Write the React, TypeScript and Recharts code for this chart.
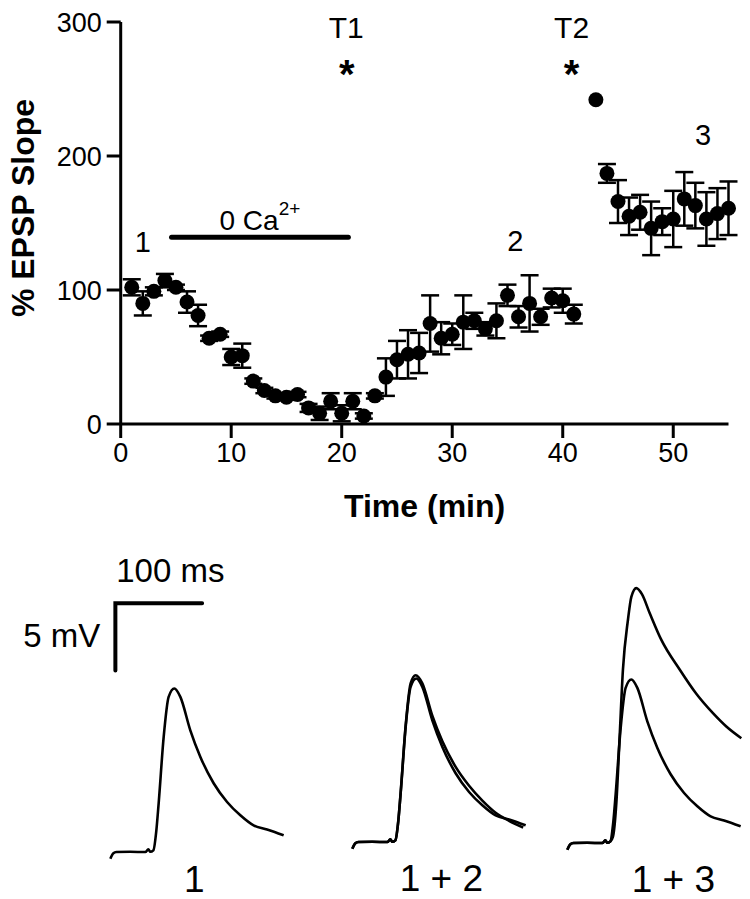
import {
  ScatterChart,
  Scatter,
  ErrorBar,
  XAxis,
  YAxis,
  ReferenceDot,
  ReferenceLine,
  LineChart,
  Line,
} from 'recharts';

const FONT = '"Liberation Sans", Arial, Helvetica, sans-serif';

// time course: minute, mean % EPSP slope, SEM
const minutes = [
  1, 2, 3, 4, 5, 6, 7, 8, 9, 10, 11, 12, 13, 14, 15, 16, 17, 18, 19, 20, 21,
  22, 23, 24, 25, 26, 27, 28, 29, 30, 31, 32, 33, 34, 35, 36, 37, 38, 39, 40,
  41, 43, 44, 45, 46, 47, 48, 49, 50, 51, 52, 53, 54, 55,
];
const slopeMean = [
  102, 90, 99, 107, 102, 91, 81, 64, 67, 50, 51, 32, 25, 21, 20, 22, 12, 8, 17,
  8, 17, 6, 21, 35, 48, 52, 53, 75, 64, 67, 76, 77, 71, 77, 96, 80, 90, 80, 94,
  92, 82, 242, 187, 166, 155, 158, 146, 151, 153, 168, 163, 153, 157, 161,
];
const slopeSem = [
  6, 9, 3, 5, 2, 8, 8, 2, 2, 6, 9, 2, 2, 2, 2, 2, 3, 5, 6, 6, 6, 2, 2, 14, 14,
  18, 15, 21, 12, 8, 20, 6, 5, 13, 8, 8, 21, 6, 7, 9, 7, 0, 7, 16, 14, 13, 20,
  10, 21, 20, 17, 20, 19, 20,
];
const minuteTicks = [0, 10, 20, 30, 40, 50];
const slopeTicks = [0, 100, 200, 300];

// text marks on the time course (minute, % slope)
const notes = [
  { t: 20.4, v: 296, text: 'T1' },
  { t: 20.45, v: 269, text: '*' },
  { t: 40.8, v: 296, text: 'T2' },
  { t: 40.8, v: 269, text: '*' },
  { t: 2.0, v: 136, text: '1' },
  { t: 35.7, v: 137, text: '2' },
  { t: 52.7, v: 216, text: '3' },
];
const zeroCa = { from: 4.6, to: 20.6, v: 139.3, labelT: 12.6, labelV: 152.5 };

// EPSP traces: ms, mV
const ctrlMs = [0, 3.5, 6.9, 23, 40.4, 43.8, 46.1, 49.6, 53, 55.7, 61.5, 67.2, 73.8, 80.7, 92.2, 103.8, 119.1, 134.6, 149.9, 165.2, 180.7, 199.8];
const ctrlMv = [-0.47, -0.07, 0.02, 0.04, 0.02, 0.22, 0.04, 0.15, 1.6, 3.64, 8.57, 11.54, 12.16, 11.54, 9.06, 7.08, 5.13, 3.74, 2.75, 2.0, 1.69, 1.26];
const after2Ms = [0, 3.5, 6.9, 23, 40.4, 43.8, 46.1, 49.6, 53, 55.7, 61.5, 67.2, 73, 80.7, 92.2, 103.8, 119.1, 134.6, 149.9, 165.2, 180.7, 197];
const after2Mv = [-0.47, -0.07, 0.02, 0.04, 0.02, 0.22, 0.04, 0.15, 1.6, 3.7, 8.7, 11.8, 12.4, 11.8, 9.4, 7.5, 5.6, 4.2, 3.1, 2.2, 1.6, 1.1];
const after3Ms = [0, 3.5, 6.9, 23, 40.4, 43.8, 46.1, 49.6, 52.6, 56.5, 60.3, 64.1, 69.9, 73.8, 79.5, 86, 94.9, 108.4, 129.5, 148.7, 167.9, 183.3, 200.6];
const after3Mv = [-0.47, -0.07, 0.02, 0.04, 0.02, 0.22, 0.04, 0.15, 0.5, 3.0, 7.9, 12.9, 16.6, 18.3, 18.95, 18.5, 17.1, 15.1, 12.9, 11.1, 9.66, 8.67, 7.8];
// scale bar: 100 ms, 5 mV
const barMs = [5.8, 5.8, 105.8];
const barMv = [13.5, 18.5, 18.5];

const slopeRows = minutes.map((t, i) => ({ t, v: slopeMean[i], err: slopeSem[i] }));
const toRows = (ms: number[], mv: number[]) => ms.map((t, i) => ({ t, v: mv[i] }));
const ctrlRows = toRows(ctrlMs, ctrlMv);
const after2Rows = toRows(after2Ms, after2Mv);
const after3Rows = toRows(after3Ms, after3Mv);
const barRows = toRows(barMs, barMv);

const axisStyle = { stroke: '#000', strokeWidth: 3 };

function NoteText(p: any, text: string, size: number, bold = false) {
  const star = text === '*';
  return (
    <text
      x={p.cx}
      y={p.cy}
      dy={star ? '0.6em' : '0.36em'}
      textAnchor="middle"
      fontFamily={FONT}
      fontSize={size}
      fontWeight={bold || star ? 'bold' : 'normal'}
      fill="#000"
    >
      {text}
    </text>
  );
}

function TimeCourse() {
  const yLabel = (props: any) => {
    const vb = props.viewBox;
    const cx = vb.x + 22;
    const cy = vb.y + vb.height / 2 - 15;
    return (
      <text x={cx} y={cy} transform={`rotate(-90 ${cx} ${cy})`} textAnchor="middle" dy="0.36em"
        fontFamily={FONT} fontSize={32} fontWeight="bold" fill="#000">
        % EPSP Slope
      </text>
    );
  };
  const xLabel = (props: any) => {
    const vb = props.viewBox;
    return (
      <text x={vb.x + vb.width / 2} y={vb.y + 93} textAnchor="middle"
        fontFamily={FONT} fontSize={32} fontWeight="bold" fill="#000">
        Time (min)
      </text>
    );
  };

  return (
    <ScatterChart width={750} height={540} margin={{ top: 22, right: 21.5, bottom: 0, left: 0 }}>
      <XAxis type="number" dataKey="t" domain={[0, 55]} ticks={minuteTicks} interval={0}
        axisLine={axisStyle} tickLine={axisStyle} tickSize={14} tickMargin={5}
        tick={{ fill: '#000', fontSize: 27, fontFamily: FONT }} height={116} label={xLabel} />
      <YAxis type="number" dataKey="v" domain={[0, 300]} ticks={slopeTicks} interval={0}
        axisLine={axisStyle} tickLine={axisStyle} tickSize={14} tickMargin={5}
        tick={{ fill: '#000', fontSize: 27, fontFamily: FONT }} width={120.7} label={yLabel} />
      <ReferenceLine
        segment={[{ x: zeroCa.from, y: zeroCa.v }, { x: zeroCa.to, y: zeroCa.v }]}
        stroke="#000" strokeWidth={5} strokeLinecap="round" />
      <ReferenceDot x={zeroCa.labelT} y={zeroCa.labelV} r={0}
        shape={(p: any) => (
          <text x={p.cx} y={p.cy} dy="0.36em" textAnchor="middle" fontFamily={FONT} fontSize={28} fill="#000">
            0 Ca<tspan fontSize={19} dy="-0.75em">2+</tspan>
          </text>
        )} />
      {notes.map((n, i) => (
        <ReferenceDot key={i} x={n.t} y={n.v} r={0}
          shape={(p: any) => NoteText(p, n.text, n.text === '*' ? 40 : n.text.length > 1 ? 30 : 29)} />
      ))}
      <Scatter data={slopeRows} isAnimationActive={false}
        shape={(p: any) => <circle cx={p.cx} cy={p.cy} r={7.5} fill="#000" />}>
        <ErrorBar dataKey="err" direction="y" width={9} stroke="#000" strokeWidth={2.5} />
      </Scatter>
    </ScatterChart>
  );
}

const PX_PER_MS = 0.8673;
const PX_PER_MV = 13.47;
const MS_DOMAIN: [number, number] = [-20, 205];
const MV_DOMAIN: [number, number] = [-4, 22];
const PM = { top: 10, right: 5, bottom: 10, left: 80 };

type PanelProps = {
  plotLeft: number;
  plotTop: number;
  traces: { t: number; v: number }[][];
  label: { t: number; v: number; text: string };
  scaleBar?: boolean;
};

function TracePanel({ plotLeft, plotTop, traces, label, scaleBar }: PanelProps) {
  const w = (MS_DOMAIN[1] - MS_DOMAIN[0]) * PX_PER_MS;
  const h = (MV_DOMAIN[1] - MV_DOMAIN[0]) * PX_PER_MV;
  return (
    <div style={{ position: 'absolute', left: plotLeft - PM.left, top: plotTop - PM.top }}>
      <LineChart width={w + PM.left + PM.right} height={h + PM.top + PM.bottom} margin={PM}>
        <XAxis type="number" dataKey="t" domain={MS_DOMAIN} allowDataOverflow hide />
        <YAxis type="number" dataKey="v" domain={MV_DOMAIN} allowDataOverflow hide />
        {traces.map((rows, i) => (
          <Line key={i} data={rows} dataKey="v" type="monotone" dot={false} stroke="#000"
            strokeWidth={2.6} strokeLinejoin="round" isAnimationActive={false} />
        ))}
        {scaleBar && (
          <Line data={barRows} dataKey="v" type="linear" dot={false} stroke="#000"
            strokeWidth={4} strokeLinecap="round" isAnimationActive={false} />
        )}
        {scaleBar && (
          <ReferenceDot x={69.2} y={20.97} r={0}
            shape={(p: any) => NoteText(p, '100 ms', 33)} />
        )}
        {scaleBar && (
          <ReferenceDot x={-11.5} y={16.1} r={0}
            shape={(p: any) => (
              <text x={p.cx} y={p.cy} dy="0.36em" textAnchor="end" fontFamily={FONT} fontSize={33} fill="#000">
                5 mV
              </text>
            )} />
        )}
        <ReferenceDot x={label.t} y={label.v} r={0}
          shape={(p: any) => NoteText(p, label.text, 37)} />
      </LineChart>
    </div>
  );
}

export default function App() {
  return (
    <div style={{ position: 'absolute', left: 0, top: 0, width: 750, height: 899, overflow: 'hidden', background: '#fff' }}>
      <TimeCourse />
      <TracePanel plotLeft={92.65} plotTop={555.7} traces={[ctrlRows]}
        label={{ t: 96.9, v: -1.96, text: '1' }} scaleBar />
      <TracePanel plotLeft={334.65} plotTop={546.4} traces={[ctrlRows, after2Rows]}
        label={{ t: 102.6, v: -2.65, text: '1 + 2' }} />
      <TracePanel plotLeft={550.35} plotTop={547} traces={[ctrlRows, after3Rows]}
        label={{ t: 122.2, v: -2.6, text: '1 + 3' }} />
    </div>
  );
}
